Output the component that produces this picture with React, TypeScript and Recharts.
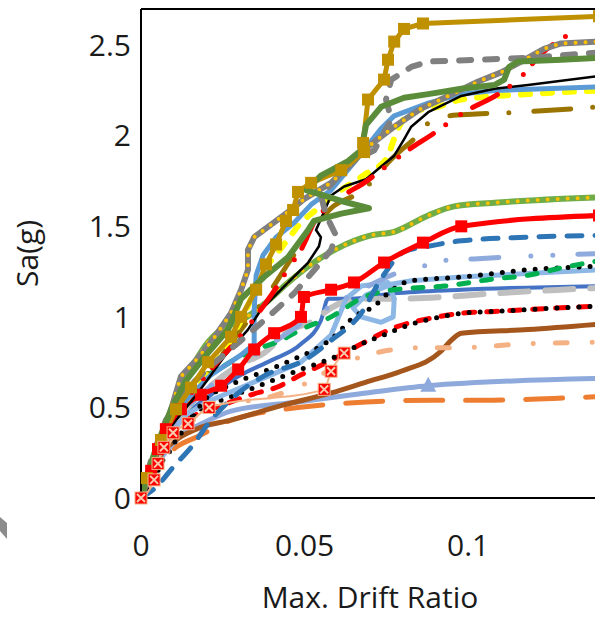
import { LineChart, Line, XAxis, YAxis, ReferenceLine } from "recharts";

type Pt = [number, number];

const FONT = "'Open Sans', 'Noto Sans', sans-serif";

const xTicks = [0, 0.05, 0.1];
const yTicks = [0, 0.5, 1, 1.5, 2, 2.5];

// [max drift ratio, Sa(g)]
const goldSquares: Pt[] = [
  [0, 0], [0.0018, 0.11], [0.0061, 0.32], [0.0107, 0.49], [0.0153, 0.61], [0.0205, 0.75],
  [0.0275, 0.89], [0.0306, 1.0], [0.0352, 1.15], [0.0382, 1.29], [0.0413, 1.4], [0.0443, 1.53],
  [0.0465, 1.59], [0.048, 1.69], [0.052, 1.74], [0.0612, 1.81], [0.0682, 1.91], [0.0679, 1.96],
  [0.0694, 2.2], [0.0743, 2.31], [0.0755, 2.42], [0.0774, 2.52], [0.0804, 2.59], [0.0862, 2.62],
  [0.14, 2.66],
];
const grayDash: Pt[] = [
  [0, 0], [0.0031, 0.21], [0.0076, 0.43], [0.0138, 0.6], [0.0214, 0.73], [0.0306, 0.87],
  [0.0376, 0.98], [0.0468, 1.13], [0.0535, 1.27], [0.0581, 1.37], [0.0596, 1.45], [0.0566, 1.56],
  [0.055, 1.67], [0.0596, 1.76], [0.0657, 1.87], [0.0713, 1.92], [0.0765, 2.09], [0.0749, 2.2],
  [0.0765, 2.31], [0.0826, 2.38], [0.0878, 2.41], [0.1183, 2.43], [0.14, 2.46],
];
const redDashDot: Pt[] = [
  [0, 0], [0.0031, 0.18], [0.0076, 0.37], [0.0138, 0.54], [0.0214, 0.71], [0.0306, 0.9],
  [0.0398, 1.12], [0.0459, 1.29], [0.0489, 1.37], [0.0535, 1.54], [0.056, 1.59], [0.0627, 1.68],
  [0.0682, 1.74], [0.0734, 1.81], [0.0832, 1.94], [0.0884, 2.0], [0.0939, 2.07], [0.0988, 2.13],
  [0.1092, 2.23], [0.1153, 2.31], [0.1223, 2.45], [0.1339, 2.59],
];
const grayGoldDot: Pt[] = [
  [0, 0], [0.0031, 0.15], [0.0061, 0.32], [0.0092, 0.49], [0.0122, 0.67], [0.0168, 0.76],
  [0.0214, 0.86], [0.0275, 1.02], [0.0306, 1.15], [0.0327, 1.26], [0.0327, 1.37], [0.0346, 1.44],
  [0.045, 1.58], [0.0498, 1.65], [0.0581, 1.74], [0.0694, 1.94], [0.0774, 2.05], [0.0856, 2.15],
  [0.0939, 2.22], [0.1031, 2.3], [0.1101, 2.35], [0.1162, 2.41], [0.1232, 2.48], [0.1284, 2.51],
  [0.14, 2.52],
];
const greenSolid: Pt[] = [
  [0, 0], [0.0024, 0.15], [0.0055, 0.32], [0.0092, 0.49], [0.0138, 0.65], [0.0199, 0.79],
  [0.0266, 0.93], [0.0306, 1.1], [0.0376, 1.22], [0.045, 1.33], [0.0511, 1.48], [0.0529, 1.53],
  [0.0612, 1.57], [0.0697, 1.6], [0.0612, 1.64], [0.0505, 1.7], [0.055, 1.78], [0.0633, 1.86],
  [0.0673, 1.92], [0.0688, 2.06], [0.0734, 2.16], [0.0804, 2.21], [0.0878, 2.23], [0.0979, 2.26],
  [0.108, 2.28], [0.111, 2.31], [0.1125, 2.38], [0.1153, 2.41], [0.1284, 2.42], [0.14, 2.43],
];
const blackSolid: Pt[] = [
  [0, 0], [0.0031, 0.17], [0.0061, 0.32], [0.0107, 0.43], [0.0174, 0.58], [0.0254, 0.78],
  [0.0327, 0.93], [0.0367, 1.04], [0.045, 1.19], [0.0511, 1.3], [0.0544, 1.39], [0.055, 1.44],
  [0.0535, 1.48], [0.055, 1.54], [0.0581, 1.67], [0.0621, 1.72], [0.0688, 1.76], [0.0734, 1.83],
  [0.0774, 1.89], [0.0804, 1.98], [0.0826, 2.05], [0.0878, 2.13], [0.0979, 2.22], [0.108, 2.26],
  [0.1183, 2.28], [0.14, 2.33],
];
const ltBlueUpper: Pt[] = [
  [0, 0], [0.0031, 0.18], [0.0076, 0.38], [0.0138, 0.54], [0.0214, 0.68], [0.0306, 0.79],
  [0.0346, 0.85], [0.0346, 1.04], [0.0352, 1.23], [0.0373, 1.34], [0.0413, 1.44], [0.0468, 1.52],
  [0.052, 1.62], [0.0581, 1.7], [0.0673, 1.9], [0.0734, 2.04], [0.0774, 2.11], [0.0878, 2.18],
  [0.0979, 2.23], [0.108, 2.25], [0.14, 2.27],
];
const yellowDash: Pt[] = [
  [0, 0], [0.0031, 0.18], [0.0076, 0.37], [0.0138, 0.54], [0.0214, 0.71], [0.0291, 0.93],
  [0.0336, 1.1], [0.0358, 1.21], [0.0407, 1.33], [0.045, 1.43], [0.0489, 1.52], [0.0535, 1.59],
  [0.0612, 1.7], [0.0688, 1.79], [0.0749, 1.87], [0.0786, 2.04], [0.0826, 2.13], [0.0908, 2.16],
  [0.0979, 2.2], [0.1183, 2.23], [0.14, 2.25],
];
const oliveDashDot: Pt[] = [
  [0, 0], [0.0031, 0.18], [0.0076, 0.37], [0.0138, 0.54], [0.0214, 0.71], [0.0306, 0.93],
  [0.0398, 1.15], [0.0459, 1.32], [0.052, 1.47], [0.0581, 1.6], [0.0679, 1.7], [0.0765, 1.87],
  [0.0856, 2.02], [0.0896, 2.1], [0.1024, 2.12], [0.1153, 2.13], [0.14, 2.16],
];
const greenYellowDot: Pt[] = [
  [0, 0], [0.0024, 0.15], [0.0055, 0.32], [0.0083, 0.43], [0.0107, 0.54], [0.0131, 0.64],
  [0.0168, 0.76], [0.0205, 0.86], [0.0245, 0.93], [0.0306, 0.98], [0.0376, 1.07], [0.045, 1.19],
  [0.052, 1.29], [0.0602, 1.38], [0.0703, 1.45], [0.0774, 1.47], [0.0878, 1.56], [0.0957, 1.61],
  [0.108, 1.63], [0.14, 1.66],
];
const redSquares: Pt[] = [
  [0, 0], [0.0031, 0.15], [0.0052, 0.27], [0.0076, 0.38], [0.0122, 0.49], [0.0183, 0.57],
  [0.0245, 0.62], [0.0297, 0.71], [0.0346, 0.82], [0.0407, 0.91], [0.0489, 1.0], [0.0498, 1.11],
  [0.0581, 1.15], [0.0651, 1.19], [0.0743, 1.3], [0.0862, 1.41], [0.0979, 1.5], [0.14, 1.56],
];
const dkBlueDash: Pt[] = [
  [0, 0], [0.0046, 0.06], [0.0098, 0.17], [0.0153, 0.28], [0.0214, 0.43], [0.0291, 0.57],
  [0.0382, 0.68], [0.0498, 0.76], [0.0581, 0.87], [0.0673, 1.02], [0.0734, 1.21], [0.0804, 1.36],
  [0.0878, 1.39], [0.0979, 1.42], [0.1183, 1.44], [0.14, 1.45],
];
const ltBlueDashDot: Pt[] = [
  [0, 0], [0.0031, 0.15], [0.0076, 0.32], [0.0138, 0.49], [0.0214, 0.62], [0.0306, 0.74],
  [0.0398, 0.85], [0.0489, 0.96], [0.0581, 1.06], [0.0673, 1.15], [0.0795, 1.25], [0.0862, 1.28],
  [0.0917, 1.31], [0.1018, 1.32], [0.111, 1.33], [0.1245, 1.34], [0.14, 1.35],
];
const greenDash: Pt[] = [
  [0, 0], [0.0031, 0.15], [0.0061, 0.32], [0.0107, 0.49], [0.0168, 0.63], [0.0245, 0.72],
  [0.0336, 0.81], [0.0428, 0.87], [0.0489, 0.93], [0.0581, 1.0], [0.0682, 1.11], [0.0774, 1.15],
  [0.0927, 1.17], [0.108, 1.21], [0.1183, 1.23], [0.1284, 1.27], [0.14, 1.31],
];
const blackDotUpper: Pt[] = [
  [0, 0], [0.0021, 0.04], [0.004, 0.1], [0.0061, 0.19], [0.0092, 0.27], [0.0113, 0.34],
  [0.0144, 0.39], [0.0174, 0.49], [0.0205, 0.56], [0.0245, 0.6], [0.0306, 0.65], [0.0407, 0.72],
  [0.0459, 0.76], [0.059, 0.89], [0.0651, 1.0], [0.0713, 1.06], [0.0755, 1.13], [0.0826, 1.2],
  [0.0979, 1.22], [0.1183, 1.26], [0.14, 1.28],
];
const ltBlueLoop: Pt[] = [
  [0, 0], [0.0031, 0.15], [0.0076, 0.32], [0.0138, 0.46], [0.0214, 0.54], [0.0306, 0.61],
  [0.0398, 0.68], [0.0489, 0.75], [0.0581, 0.9], [0.0627, 1.1], [0.0673, 1.17], [0.0755, 1.19],
  [0.0774, 1.1], [0.0771, 1.0], [0.0734, 0.97], [0.0673, 1.0], [0.0648, 1.05], [0.0688, 1.12],
  [0.0765, 1.18], [0.0826, 1.2], [0.0979, 1.22], [0.14, 1.26],
];
const ltGrayDash: Pt[] = [
  [0, 0], [0.0031, 0.15], [0.0076, 0.32], [0.0138, 0.49], [0.0214, 0.62], [0.0306, 0.74],
  [0.0376, 0.8], [0.045, 0.92], [0.0529, 0.98], [0.0581, 1.05], [0.0673, 1.1], [0.0774, 1.1],
  [0.0927, 1.11], [0.108, 1.13], [0.1284, 1.15], [0.14, 1.16],
];
const blueSolid: Pt[] = [
  [0, 0], [0.0031, 0.15], [0.0076, 0.32], [0.0138, 0.46], [0.0214, 0.57], [0.0306, 0.68],
  [0.0398, 0.76], [0.0489, 0.85], [0.055, 0.98], [0.0572, 1.1], [0.0642, 1.1], [0.0774, 1.13],
  [0.0979, 1.15], [0.14, 1.17],
];
const redDashLower: Pt[] = [
  [0, 0], [0.0031, 0.14], [0.0061, 0.27], [0.0107, 0.38], [0.0168, 0.46], [0.0245, 0.51],
  [0.0336, 0.57], [0.0413, 0.61], [0.0489, 0.68], [0.0581, 0.76], [0.0673, 0.85], [0.0774, 0.94],
  [0.0878, 0.99], [0.0979, 1.02], [0.108, 1.03], [0.1284, 1.05], [0.14, 1.06],
];
const blackDotLower: Pt[] = [
  [0, 0], [0.0031, 0.15], [0.0067, 0.29], [0.0122, 0.4], [0.0183, 0.49], [0.0275, 0.56],
  [0.0376, 0.63], [0.0489, 0.71], [0.0581, 0.77], [0.0673, 0.85], [0.0743, 0.9], [0.0826, 0.96],
  [0.0917, 1.0], [0.0979, 1.02], [0.108, 1.03], [0.1284, 1.05], [0.14, 1.06],
];
const salmonDashDot: Pt[] = [
  [0, 0], [0.0031, 0.15], [0.0076, 0.29], [0.0138, 0.4], [0.0214, 0.49], [0.0306, 0.53],
  [0.0398, 0.56], [0.0489, 0.62], [0.0581, 0.71], [0.0673, 0.78], [0.074, 0.81], [0.0856, 0.83],
  [0.0979, 0.83], [0.1162, 0.85], [0.14, 0.86],
];
const brownSolid: Pt[] = [
  [0, 0], [0.0031, 0.13], [0.0061, 0.24], [0.0107, 0.32], [0.0183, 0.39], [0.0275, 0.43],
  [0.0428, 0.51], [0.0581, 0.58], [0.0688, 0.64], [0.0795, 0.7], [0.0917, 0.81], [0.0948, 0.87],
  [0.0979, 0.91], [0.1183, 0.93], [0.14, 0.96],
];
const xBoxes: Pt[] = [
  [0, 0], [0.004, 0.1], [0.0052, 0.19], [0.007, 0.28], [0.0098, 0.36], [0.0144, 0.41],
  [0.0208, 0.5], [0.056, 0.6], [0.0581, 0.7], [0.0621, 0.8],
];
const ltBlueTriangle: Pt[] = [
  [0, 0], [0.0031, 0.13], [0.0061, 0.22], [0.0098, 0.3], [0.0138, 0.37], [0.0174, 0.4],
  [0.0275, 0.48], [0.048, 0.53], [0.0688, 0.58], [0.0878, 0.62], [0.14, 0.66],
];
const orangeDash: Pt[] = [
  [0, 0], [0.0031, 0.11], [0.0061, 0.2], [0.0107, 0.28], [0.0174, 0.34], [0.0275, 0.43],
  [0.0398, 0.48], [0.048, 0.5], [0.0688, 0.53], [0.0893, 0.54], [0.1076, 0.54], [0.126, 0.55],
  [0.14, 0.56],
];

const toRows = (pts: Pt[]) => pts.map(([x, y]) => ({ x, y }));

const squareDot = (fill: string, s: number) => (p: any) => (
  <rect key={`sq-${p.index}`} x={p.cx - s / 2} y={p.cy - s / 2} width={s} height={s} fill={fill} />
);

const xBoxDot = (p: any) => (
  <g key={`xb-${p.index}`}>
    <rect x={p.cx - 6} y={p.cy - 6} width={12} height={12} fill="#FF0000" stroke="#F4B183" strokeWidth={1} />
    <path
      d={`M${p.cx - 4},${p.cy - 4}L${p.cx + 4},${p.cy + 4}M${p.cx + 4},${p.cy - 4}L${p.cx - 4},${p.cy + 4}`}
      stroke="#F8CBAD"
      strokeWidth={2}
    />
  </g>
);

// only one triangle marker shows on that curve
const TRI_INDEX = 9;
const triangleDot = (p: any) =>
  p.index === TRI_INDEX ? (
    <polygon
      key={`tr-${p.index}`}
      points={`${p.cx},${p.cy - 9} ${p.cx - 8},${p.cy + 6} ${p.cx + 8},${p.cy + 6}`}
      fill="#8EA9DB"
    />
  ) : (
    <g key={`tr-${p.index}`} />
  );

type Spec = {
  name: string;
  pts: Pt[];
  stroke: string;
  width: number;
  dash?: string;
  curve?: "linear" | "monotone";
  dot?: any;
  dots?: string;
};

const series: Spec[] = [
  { name: "orange", pts: orangeDash, stroke: "#ED7D31", width: 5, dash: "37 23" },
  { name: "ltBlueTri", pts: ltBlueTriangle, stroke: "#8EA9DB", width: 5, dot: triangleDot },
  { name: "brown", pts: brownSolid, stroke: "#A5561C", width: 5 },
  { name: "salmon", pts: salmonDashDot, stroke: "#F4B183", width: 5, dash: "12 25 0 22" },
  { name: "redDashLow", pts: redDashLower, stroke: "#FF0000", width: 5, dash: "11 12" },
  { name: "blackDotLow", pts: blackDotLower, stroke: "#000000", width: 5, dash: "0 11" },
  { name: "blue", pts: blueSolid, stroke: "#4472C4", width: 4 },
  { name: "ltGray", pts: ltGrayDash, stroke: "#BFBFBF", width: 6, dash: "28 17" },
  { name: "ltBlueLoop", pts: ltBlueLoop, stroke: "#8DB8E6", width: 5, curve: "linear" },
  { name: "blackDotUp", pts: blackDotUpper, stroke: "#000000", width: 5, dash: "0 11" },
  { name: "greenDash", pts: greenDash, stroke: "#00B050", width: 5, dash: "10 13" },
  { name: "ltBlueDashDot", pts: ltBlueDashDot, stroke: "#8FAADC", width: 5, dash: "28 32 0 22 0 25" },
  { name: "dkBlue", pts: dkBlueDash, stroke: "#2E75B6", width: 5, dash: "15 13" },
  { name: "redSq", pts: redSquares, stroke: "#FF0000", width: 5, dot: squareDot("#FF0000", 12) },
  { name: "greenYellow", pts: greenYellowDot, stroke: "#70AD47", width: 6, dots: "#FFC000" },
  { name: "olive", pts: oliveDashDot, stroke: "#9A7400", width: 5, dash: "37 22 0 25" },
  { name: "yellow", pts: yellowDash, stroke: "#FFFF00", width: 6, dash: "9 13" },
  { name: "ltBlueUp", pts: ltBlueUpper, stroke: "#5B9BD5", width: 5, curve: "linear" },
  { name: "black", pts: blackSolid, stroke: "#000000", width: 2.5, curve: "linear" },
  { name: "redDashDot", pts: redDashDot, stroke: "#FF0000", width: 5, dash: "28 15 0 18 0 14" },
  { name: "grayDash", pts: grayDash, stroke: "#808080", width: 6, dash: "12 14", curve: "linear" },
  { name: "grayGold", pts: grayGoldDot, stroke: "#7F7F7F", width: 6, dots: "#FFC000", curve: "linear" },
  { name: "gold", pts: goldSquares, stroke: "#BF9000", width: 5, curve: "linear", dot: squareDot("#BF9000", 12) },
  { name: "green", pts: greenSolid, stroke: "#5B8C3A", width: 6, curve: "linear" },
  { name: "xBox", pts: xBoxes, stroke: "#F4B183", width: 2, dot: xBoxDot },
];

const renderLines = () =>
  series.flatMap((s) => {
    const rows = toRows(s.pts);
    const out = [
      <Line
        key={s.name}
        data={rows}
        dataKey="y"
        type={s.curve ?? "monotone"}
        stroke={s.stroke}
        strokeWidth={s.width}
        strokeDasharray={s.dash}
        strokeLinecap="round"
        strokeLinejoin="round"
        dot={s.dot ?? false}
        activeDot={false}
        isAnimationActive={false}
      />,
    ];
    if (s.dots) {
      out.push(
        <Line
          key={s.name + "-dots"}
          data={rows}
          dataKey="y"
          type={s.curve ?? "monotone"}
          stroke={s.dots}
          strokeWidth={4}
          strokeDasharray="0 10"
          strokeLinecap="round"
          dot={false}
          activeDot={false}
          isAnimationActive={false}
        />
      );
    }
    return out;
  });

export default function App() {
  return (
    <div
      style={{
        position: "absolute",
        left: 0,
        top: 0,
        width: 595,
        height: 620,
        overflow: "hidden",
        background: "#fff",
        fontFamily: FONT,
      }}
    >
      <LineChart width={610} height={620} margin={{ top: 9, right: 11, left: 0, bottom: 0 }}>
        <XAxis
          dataKey="x"
          type="number"
          domain={[0, 0.14]}
          ticks={xTicks}
          interval={0}
          height={122}
          tickLine={false}
          tickMargin={31}
          axisLine={{ stroke: "#000", strokeWidth: 2 }}
          tick={{ fontSize: 30, fill: "#1a1a1a", fontFamily: FONT }}
          label={{
            value: "Max. Drift Ratio",
            position: "insideBottom",
            offset: 12,
            fontSize: 30,
            fill: "#1a1a1a",
            fontFamily: FONT,
          }}
        />
        <YAxis
          type="number"
          domain={[0, 2.7]}
          ticks={yTicks}
          interval={0}
          width={141}
          tickLine={false}
          tickMargin={4}
          axisLine={{ stroke: "#000", strokeWidth: 2 }}
          tick={{ fontSize: 30, fill: "#1a1a1a", fontFamily: FONT }}
          label={{
            value: "Sa(g)",
            angle: -90,
            position: "insideLeft",
            offset: 27,
            fontSize: 30,
            fill: "#1a1a1a",
            fontFamily: FONT,
            style: { textAnchor: "middle" },
          }}
        />
        <ReferenceLine y={2.7} stroke="#000" strokeWidth={2} />
        {renderLines()}
      </LineChart>
      <svg style={{ position: "absolute", left: 0, top: 0 }} width={20} height={620}>
        <polygon points="0,517 7,523 7,539 0,531" fill="#8C8C8C" />
      </svg>
    </div>
  );
}
